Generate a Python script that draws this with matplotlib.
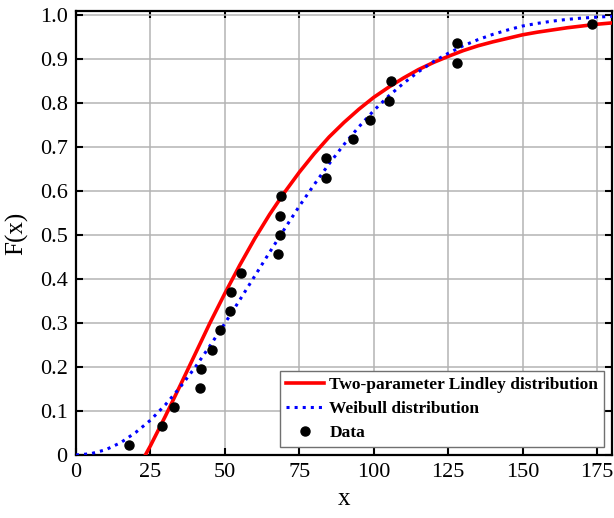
import sys
import matplotlib
matplotlib.use("Agg")
import matplotlib.pyplot as plt

# observed data (x sorted) and empirical F(x)
data_x = [17.88, 28.92, 33.00, 41.52, 42.12, 45.60, 48.48, 51.84, 51.96, 55.40, 67.80, 68.64,
          68.64, 68.88, 84.12, 84.12, 93.12, 98.64, 105.12, 105.84, 127.92, 128.04, 173.40]
data_f = [0.022, 0.065, 0.109, 0.152, 0.196, 0.239, 0.283, 0.326, 0.370, 0.413, 0.457, 0.500,
          0.543, 0.587, 0.630, 0.674, 0.717, 0.761, 0.804, 0.848, 0.891, 0.935, 0.978]

# fitted curves, values
lindley_x = [23.3, 25, 30, 35, 40, 45, 50, 55, 60, 65, 70, 75, 80, 85, 90, 95, 100, 105, 110,
             115, 120, 125, 130, 135, 140, 145, 150, 155, 160, 165, 170, 175, 180]
lindley_f = [0.0, 0.021, 0.088, 0.158, 0.229, 0.300, 0.367, 0.431, 0.491, 0.546, 0.596, 0.642,
             0.684, 0.722, 0.755, 0.785, 0.812, 0.835, 0.856, 0.875, 0.891, 0.905, 0.918, 0.929,
             0.938, 0.946, 0.954, 0.960, 0.965, 0.970, 0.974, 0.978, 0.981]

weibull_x = [0, 5, 10, 15, 20, 25, 30, 35, 40, 45, 50, 55, 60, 65, 70, 75, 80, 85, 90, 95, 100,
             105, 110, 115, 120, 125, 130, 135, 140, 145, 150, 155, 160, 165, 170, 175, 180]
weibull_f = [0.0, 0.003, 0.012, 0.028, 0.051, 0.079, 0.114, 0.154, 0.199, 0.248, 0.299, 0.352,
             0.406, 0.460, 0.513, 0.565, 0.614, 0.661, 0.705, 0.745, 0.782, 0.815, 0.844, 0.870,
             0.893, 0.912, 0.929, 0.943, 0.955, 0.965, 0.974, 0.980, 0.985, 0.989, 0.992, 0.994,
             0.996]

x_ticks = [0, 25, 50, 75, 100, 125, 150, 175]
y_ticks = [0, 0.1, 0.2, 0.3, 0.4, 0.5, 0.6, 0.7, 0.8, 0.9, 1.0]
y_labels = ["0", "0.1", "0.2", "0.3", "0.4", "0.5", "0.6", "0.7", "0.8", "0.9", "1.0"]


def main():
    plt.rcParams["font.family"] = ["Liberation Serif", "DejaVu Serif"]

    fig = plt.figure(figsize=(6.14, 5.18), dpi=100)
    ax = fig.add_axes([76/614, 63/518, 536/614, 444/518])

    ax.plot(lindley_x, lindley_f, color="#ff0000", lw=2.6, label="Two-parameter Lindley distribution", zorder=3)
    ax.plot(weibull_x, weibull_f, color="#0000ff", lw=2.2, ls=":", label="Weibull distribution", zorder=4)
    ax.plot(data_x, data_f, "o", color="black", ms=6.5, label="Data", zorder=5)

    ax.set_xlim(0, 180)
    ax.set_ylim(0, 1.008)
    ax.set_xticks(x_ticks)
    ax.set_yticks(y_ticks)
    ax.set_yticklabels(y_labels)
    ax.grid(True, color="#b4b4b4", lw=1.1)
    ax.set_axisbelow(True)

    ax.tick_params(direction="in", length=5, width=1.5, labelsize=16, top=True, right=True, pad=6)
    for s in ax.spines.values(): s.set_linewidth(1.6)

    ax.set_xlabel("x", fontsize=18, labelpad=4)
    ax.set_ylabel("F(x)", fontsize=18, labelpad=8)

    leg = ax.legend(loc="lower right", fancybox=False, framealpha=1, edgecolor="#707070",
                    prop={"weight": "bold", "size": 12.5}, handlelength=2.2, handletextpad=0.3,
                    borderaxespad=0.45, labelspacing=0.45, borderpad=0.35)
    leg.get_frame().set_linewidth(1.0)

    fig.savefig("out.png", dpi=100)


if __name__ == "__main__":
    sys.exit(main() or 0)
